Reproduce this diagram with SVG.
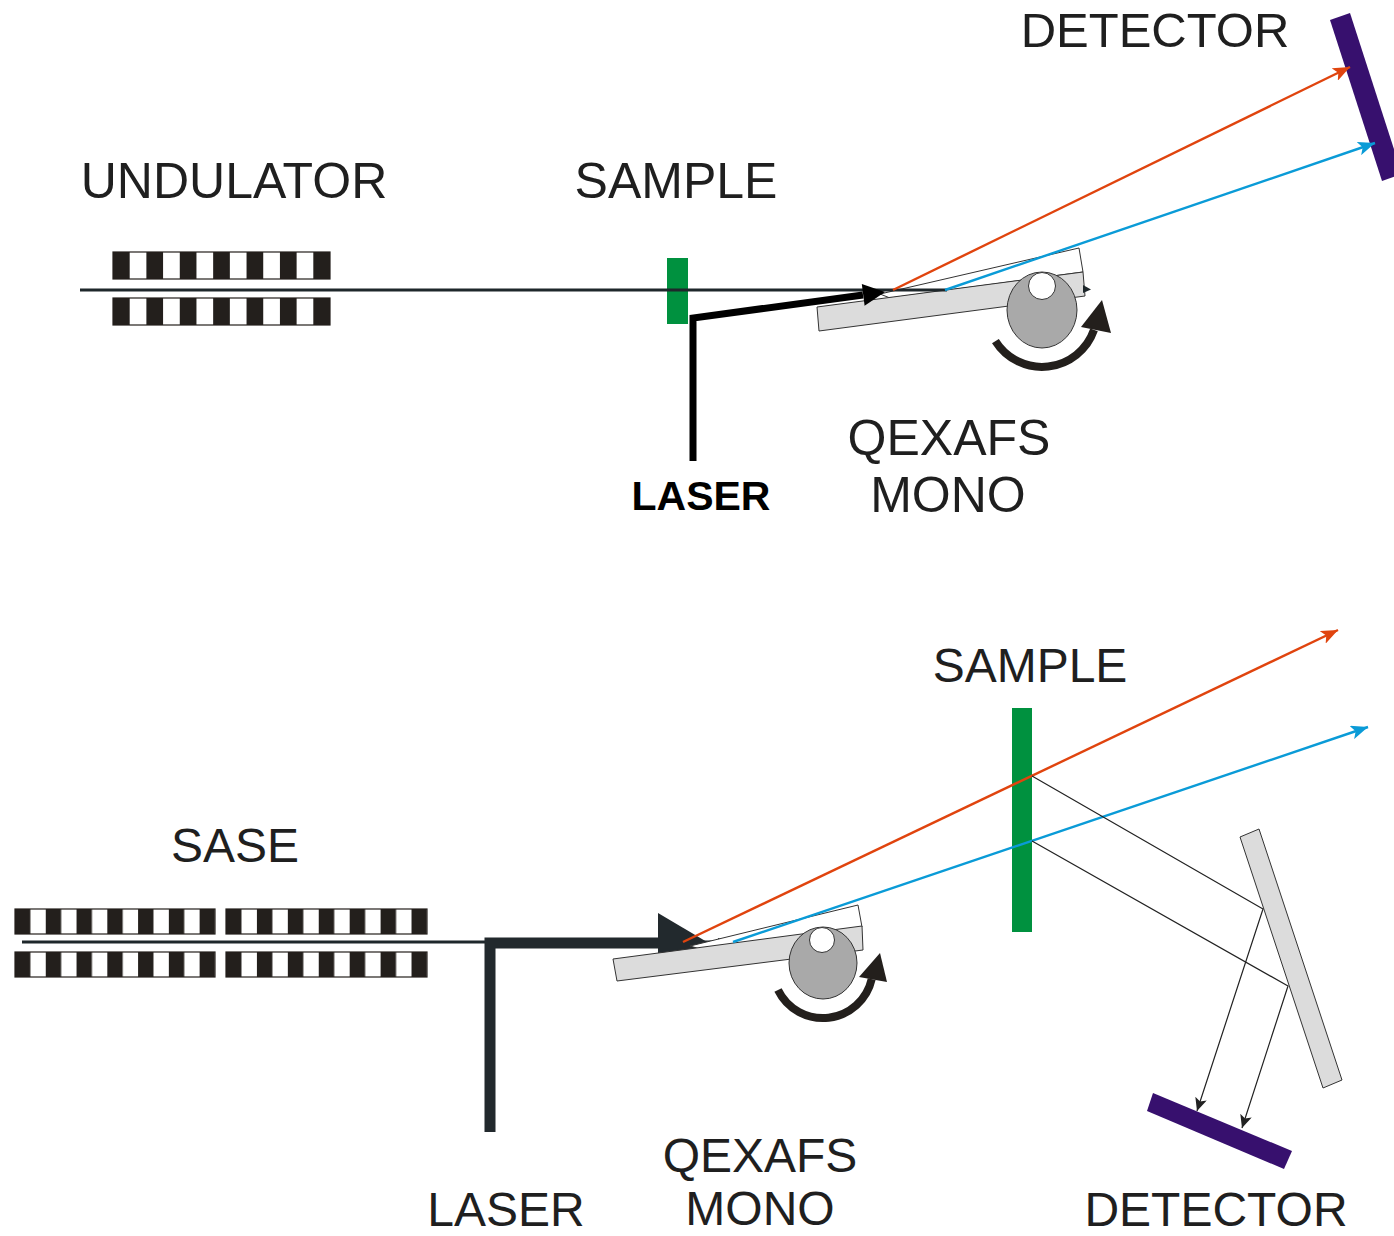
<svg xmlns="http://www.w3.org/2000/svg" width="1394" height="1236" viewBox="0 0 1394 1236">
  <style>
    .lbl { font-family: "Liberation Sans", Arial, sans-serif; fill: #1f1f1f; text-anchor: middle; }
    .lbl.bold { fill: #000; font-weight: bold; }
    .beam { stroke: #1e272b; stroke-width: 3; fill: none; }
    .red { stroke: #e0440e; stroke-width: 2.4; fill: none; }
    .blue { stroke: #0a9bd7; stroke-width: 2.4; fill: none; }
    .thin { stroke: #222; stroke-width: 1.2; fill: none; }
    .crystal { fill: #ffffff; stroke: #333; stroke-width: 1; }
    .slab { fill: #dcdcdc; stroke: #333; stroke-width: 1; }
    .disc { fill: #a9a9a9; stroke: #333; stroke-width: 1; }
    .hole { fill: #ffffff; stroke: #333; stroke-width: 1; }
    .rot { stroke: #231f1c; stroke-width: 8; fill: none; }
    .sample { fill: #00913f; }
    .det { fill: #37106e; }
    .magnet { stroke: #231f1c; stroke-width: 1.2; }
  </style>
  <defs>
    <pattern id="stripeTop" patternUnits="userSpaceOnUse" x="113" y="0" width="33.385" height="1236">
      <rect width="33.385" height="1236" fill="#fff"/>
      <rect width="16.69" height="1236" fill="#231f1c"/>
    </pattern>
    <pattern id="stripeL" patternUnits="userSpaceOnUse" x="15" y="0" width="30.77" height="1236">
      <rect width="30.77" height="1236" fill="#fff"/>
      <rect width="15.385" height="1236" fill="#231f1c"/>
    </pattern>
    <pattern id="stripeR" patternUnits="userSpaceOnUse" x="226" y="0" width="30.92" height="1236">
      <rect width="30.92" height="1236" fill="#fff"/>
      <rect width="15.46" height="1236" fill="#231f1c"/>
    </pattern>
    <marker id="arrRed" markerUnits="userSpaceOnUse" markerWidth="18" markerHeight="14" refX="17" refY="7" orient="auto">
      <path d="M0,0 L17,7 L0,14 L4,7 z" fill="#e0440e"/>
    </marker>
    <marker id="arrBlue" markerUnits="userSpaceOnUse" markerWidth="18" markerHeight="14" refX="17" refY="7" orient="auto">
      <path d="M0,0 L17,7 L0,14 L4,7 z" fill="#0a9bd7"/>
    </marker>
    <marker id="arrThin" markerUnits="userSpaceOnUse" markerWidth="14" markerHeight="12" refX="13" refY="6" orient="auto">
      <path d="M0,0 L13,6 L0,12 L3,6 z" fill="#222"/>
    </marker>
  </defs>

  <!-- ===== Upper set-up: undulator source ===== -->
  <g id="undulator-top">
    <rect class="magnet" x="113" y="252" width="217" height="27" fill="url(#stripeTop)"/>
    <rect class="magnet" x="113" y="298" width="217" height="27" fill="url(#stripeTop)"/>
  </g>

  <g id="sample-top">
    <rect class="sample" x="667" y="258" width="21" height="66"/>
  </g>

  <g id="mono-top">
    <polygon class="crystal" points="880,294 1079,248 1083,272 890,298"/>
    <polygon class="slab" points="817,307 1083,272 1085,296 819,331"/>
  </g>

  <g id="detector-top">
    <polygon class="det" points="1330,20 1350,13 1402,174 1382,181"/>
  </g>

  <g id="connectors-top">
    <line class="beam" x1="80" y1="290" x2="947" y2="290"/>
    <polygon points="1083,285 1091,289.5 1083,293" fill="#1e272b"/>
    <polyline points="693,461 693,318 863,295" fill="none" stroke="#000" stroke-width="7" stroke-linejoin="miter"/>
    <polygon points="885,292 864.6,305.7 861.8,283.9" fill="#000"/>
    <line class="red" x1="893" y1="290" x2="1350" y2="67" marker-end="url(#arrRed)"/>
    <line class="blue" x1="945" y1="290" x2="1375" y2="143" marker-end="url(#arrBlue)"/>
  </g>

  <g id="rotation-top">
    <ellipse class="disc" cx="1042" cy="310" rx="35" ry="38"/>
    <circle class="hole" cx="1042" cy="286" r="13.5"/>
    <path class="rot" d="M995.4,341.1 A55,55 0 0 0 1094,329.9"/>
    <polygon points="1102,300 1111,333 1081,327" fill="#231f1c"/>
  </g>

  <g id="labels-top">
    <text class="lbl" x="234" y="198" font-size="50">UNDULATOR</text>
    <text class="lbl" x="676" y="198" font-size="50">SAMPLE</text>
    <text class="lbl" x="1155" y="47" font-size="49">DETECTOR</text>
    <text class="lbl" x="949" y="455" font-size="50">QEXAFS</text>
    <text class="lbl" x="948" y="512" font-size="50">MONO</text>
    <text class="lbl bold" x="701" y="510" font-size="41">LASER</text>
  </g>

  <!-- ===== Lower set-up: SASE source ===== -->
  <g id="undulator-bottom">
    <rect class="magnet" x="15" y="909" width="200" height="25" fill="url(#stripeL)"/>
    <rect class="magnet" x="226" y="909" width="201" height="25" fill="url(#stripeR)"/>
    <rect class="magnet" x="15" y="952" width="200" height="25" fill="url(#stripeL)"/>
    <rect class="magnet" x="226" y="952" width="201" height="25" fill="url(#stripeR)"/>
  </g>

  <g id="laser-bottom">
    <line class="beam" x1="22" y1="942" x2="728" y2="942"/>
    <polygon points="718,938 730,942 718,946" fill="#1e272b"/>
    <polyline points="490,1132 490,943 660,943" fill="none" stroke="#22292d" stroke-width="11" stroke-linejoin="miter"/>
    <polygon points="658,913 707,942 658,971" fill="#22292d"/>
  </g>

  <g id="mono-bottom">
    <polygon class="crystal" points="690,946 858,905 862,927 700,949"/>
    <polygon class="slab" points="613,959 862,926 863,950 617,981"/>
  </g>

  <g id="sample-bottom">
    <rect class="sample" x="1012" y="708" width="20" height="224"/>
  </g>

  <g id="mirror-bottom">
    <polygon class="slab" points="1240,837 1259,829 1342,1080 1323,1088"/>
  </g>

  <g id="detector-bottom">
    <polygon class="det" points="1147,1111 1153,1093 1292,1151 1284,1169"/>
  </g>

  <g id="connectors-bottom">
    <line class="red" x1="683" y1="942" x2="1338" y2="630" marker-end="url(#arrRed)"/>
    <line class="blue" x1="733" y1="942" x2="1368" y2="727" marker-end="url(#arrBlue)"/>
    <polyline class="thin" points="1032,776 1263,909 1197,1111" marker-end="url(#arrThin)"/>
    <polyline class="thin" points="1032,841 1288,986 1242,1128" marker-end="url(#arrThin)"/>
  </g>

  <g id="rotation-bottom">
    <ellipse class="disc" cx="823" cy="963" rx="34" ry="36"/>
    <circle class="hole" cx="822" cy="940" r="12.5"/>
    <path class="rot" d="M778,990 A50,50 0 0 0 871.7,979.2"/>
    <polygon points="880,953 887,982 859,977" fill="#231f1c"/>
  </g>

  <g id="labels-bottom">
    <text class="lbl" x="1030" y="682" font-size="48">SAMPLE</text>
    <text class="lbl" x="235" y="862" font-size="48">SASE</text>
    <text class="lbl" x="506" y="1226" font-size="48">LASER</text>
    <text class="lbl" x="760" y="1172" font-size="48">QEXAFS</text>
    <text class="lbl" x="760" y="1225" font-size="48">MONO</text>
    <text class="lbl" x="1216" y="1226" font-size="48">DETECTOR</text>
  </g>
</svg>
